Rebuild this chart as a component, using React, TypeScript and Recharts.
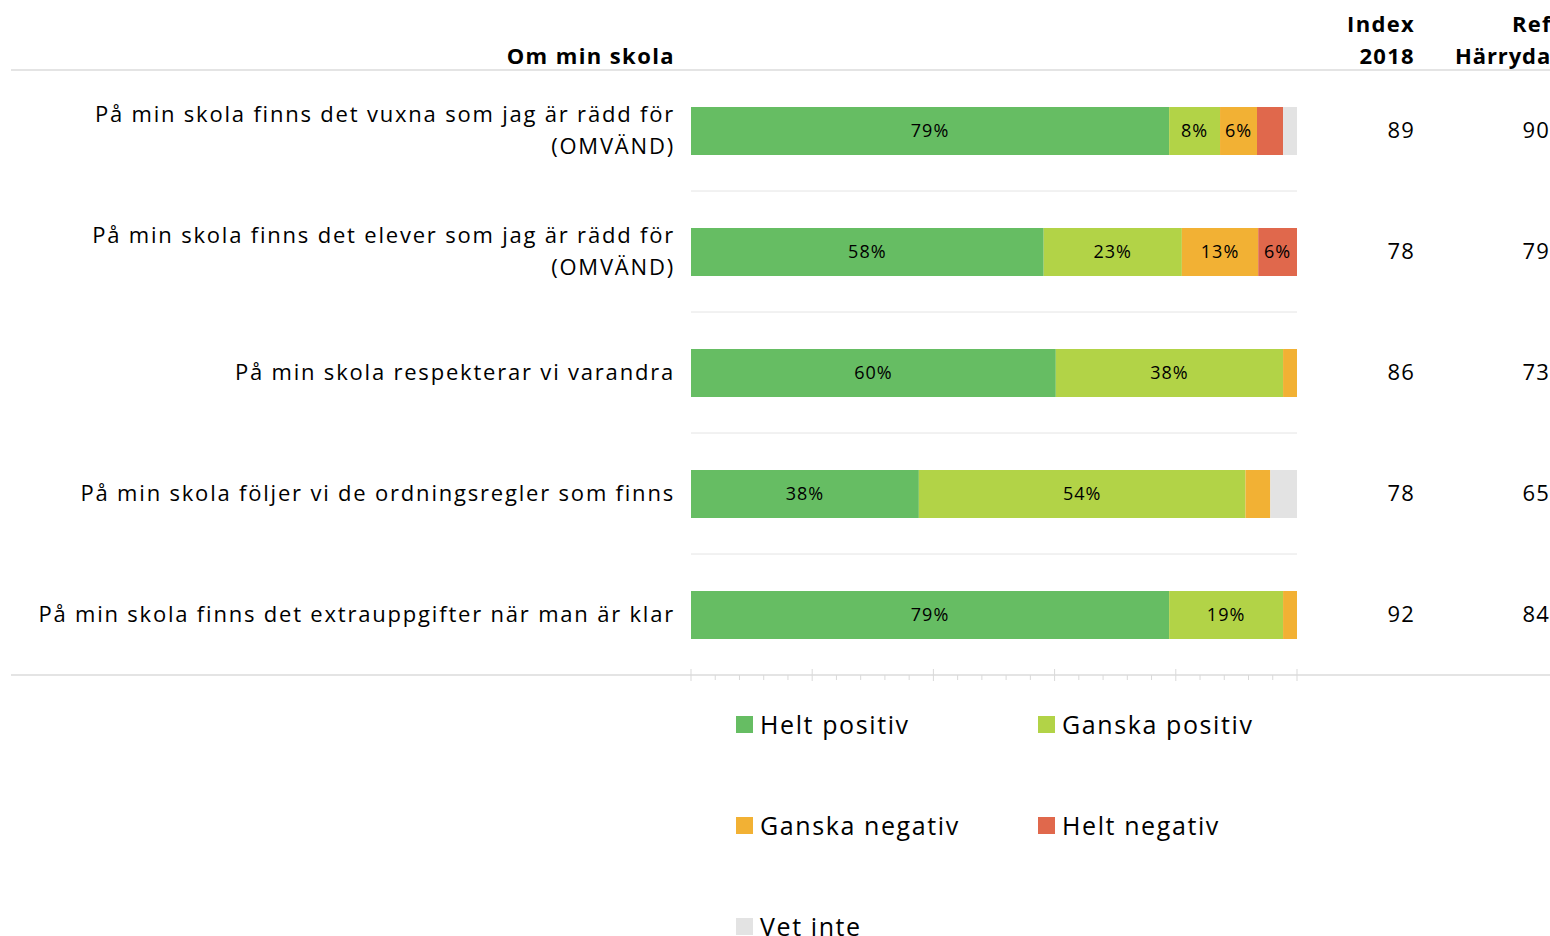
import React from "react";
import { BarChart, Bar, XAxis, YAxis, CartesianGrid, Legend, LabelList } from "recharts";

const categories = [
  "På min skola finns det vuxna som jag är rädd för (OMVÄND)",
  "På min skola finns det elever som jag är rädd för (OMVÄND)",
  "På min skola respekterar vi varandra",
  "På min skola följer vi de ordningsregler som finns",
  "På min skola finns det extrauppgifter när man är klar",
];
const heltPositiv = [78.9, 58.2, 60.2, 37.6, 78.9];
const ganskaPositiv = [8.4, 22.8, 37.5, 53.9, 18.8];
const ganskaNegativ = [6.1, 12.6, 2.3, 4.1, 2.3];
const heltNegativ = [4.3, 6.4, 0, 0, 0];
const vetInte = [2.3, 0, 0, 4.4, 0];
const index2018 = [89, 78, 86, 78, 92];
const refHarryda = [90, 79, 73, 65, 84];
const xTicks = [0, 4, 8, 12, 16, 20, 24, 28, 32, 36, 40, 44, 48, 52, 56, 60, 64, 68, 72, 76, 80, 84, 88, 92, 96, 100];

const FONT = "'Open Sans', sans-serif";

const data = categories.map((name, i) => ({
  name,
  hp: heltPositiv[i],
  gp: ganskaPositiv[i],
  gn: ganskaNegativ[i],
  hn: heltNegativ[i],
  vi: vetInte[i],
}));

const series = [
  { key: "hp", name: "Helt positiv", color: "#66bd63" },
  { key: "gp", name: "Ganska positiv", color: "#b2d347" },
  { key: "gn", name: "Ganska negativ", color: "#f2b134" },
  { key: "hn", name: "Helt negativ", color: "#e0684c" },
  { key: "vi", name: "Vet inte", color: "#e3e3e3" },
];

function CategoryTick(props: any) {
  const { x, y, payload, index } = props;
  const text: string = payload.value;
  const cut = text.indexOf("(");
  const lines = cut > 0 ? [text.slice(0, cut).trim(), text.slice(cut)] : [text];
  const start = -((lines.length - 1) * 32) / 2;
  return (
    <g>
      <text x={x} y={y} textAnchor="end" fontFamily={FONT} fontSize={22} letterSpacing={1.8} fill="#000">
        {lines.map((l, i) => (
          <tspan key={i} x={x} y={y + start + i * 32} dy="0.36em">{l}</tspan>
        ))}
      </text>
      <text x={1415} y={y} dy="0.36em" textAnchor="end" fontFamily={FONT} fontSize={22} letterSpacing={1.2} fill="#000">
        {index2018[index]}
      </text>
      <text x={1550} y={y} dy="0.36em" textAnchor="end" fontFamily={FONT} fontSize={22} letterSpacing={1.2} fill="#000">
        {refHarryda[index]}
      </text>
    </g>
  );
}

function MinorTick(props: any) {
  const { x, y, payload } = props;
  const major = payload.value % 20 === 0;
  return <line x1={x} x2={x} y1={major ? y - 6 : y} y2={y + (major ? 6 : 5)} stroke="#d9d9d9" strokeWidth={1} />;
}

function LegendContent(props: any) {
  const { payload = [] } = props;
  const items = series.map((s) => payload.find((p: any) => p.value === s.name) || { value: s.name, color: s.color });
  return (
    <div style={{ position: "absolute", left: 0, top: 0, display: "grid", gridTemplateColumns: "302px 302px", rowGap: 71 }}>
      {items.map((p: any) => (
        <div key={p.value} style={{ display: "flex", alignItems: "center", height: 30 }}>
          <span style={{ width: 17, height: 17, background: p.color, marginRight: 7, display: "inline-block" }} />
          <span style={{ fontFamily: FONT, fontSize: 25, letterSpacing: 1.6, color: "#000", whiteSpace: "nowrap" }}>{p.value}</span>
        </div>
      ))}
    </div>
  );
}

const label = (v: any) => (Number(v) >= 5 ? `${Math.round(Number(v))}%` : "");

export default function App() {
  return (
    <div style={{ position: "absolute", left: 0, top: 0, width: 1550, height: 936, background: "#fff", fontFamily: FONT }}>
      <div style={{ position: "absolute", left: 11, top: 69, width: 1539, height: 2, background: "#e4e4e4" }} />
      <div style={{ position: "absolute", left: 11, top: 674, width: 1539, height: 2, background: "#e4e4e4" }} />
      <div style={{ position: "absolute", right: 875, top: 39, fontWeight: 700, fontSize: 22, letterSpacing: 1.4, whiteSpace: "nowrap", lineHeight: "32px" }}>Om min skola</div>
      <div style={{ position: "absolute", right: 135, top: 7, fontWeight: 700, fontSize: 22, letterSpacing: 1.3, textAlign: "right", lineHeight: "32px" }}>Index<br />2018</div>
      <div style={{ position: "absolute", left: 1455, top: 7, fontWeight: 700, fontSize: 22, lineHeight: "32px", whiteSpace: "nowrap", width: 95, overflow: "hidden" }}>
        <div style={{ paddingLeft: 57, letterSpacing: 1.3 }}>Ref</div>
        <div style={{ letterSpacing: 0.9 }}>Härryda</div>
      </div>
      <BarChart
        width={1550}
        height={936}
        data={data}
        layout="vertical"
        margin={{ top: 70, right: 253, bottom: 231, left: 11 }}
        barSize={48}
      >
        <CartesianGrid
          vertical={false}
          stroke="#e4e4e4"
          horizontalCoordinatesGenerator={({ offset }: any) =>
            categories.slice(1).map((_, i) => offset.top + ((i + 1) * offset.height) / categories.length)
          }
        />
        <XAxis
          type="number"
          domain={[0, 100]}
          ticks={xTicks}
          interval={0}
          axisLine={false}
          tickLine={false}
          tickSize={0}
          tickMargin={0}
          tick={<MinorTick />}
        />
        <YAxis
          type="category"
          dataKey="name"
          width={680}
          axisLine={false}
          tickLine={false}
          tickSize={0}
          tickMargin={16}
          interval={0}
          tick={<CategoryTick />}
        />
        <Legend
          verticalAlign="bottom"
          content={<LegendContent />}
          wrapperStyle={{ position: "absolute", left: 736, top: 709, width: 0, height: 0, overflow: "visible" }}
        />
        {series.map((s) => (
          <Bar key={s.key} dataKey={s.key} name={s.name} stackId="a" fill={s.color} isAnimationActive={false}>
            <LabelList dataKey={s.key} position="center" formatter={label} fill="#000" fontSize={18} fontFamily={FONT} letterSpacing={1} />
          </Bar>
        ))}
      </BarChart>
    </div>
  );
}
